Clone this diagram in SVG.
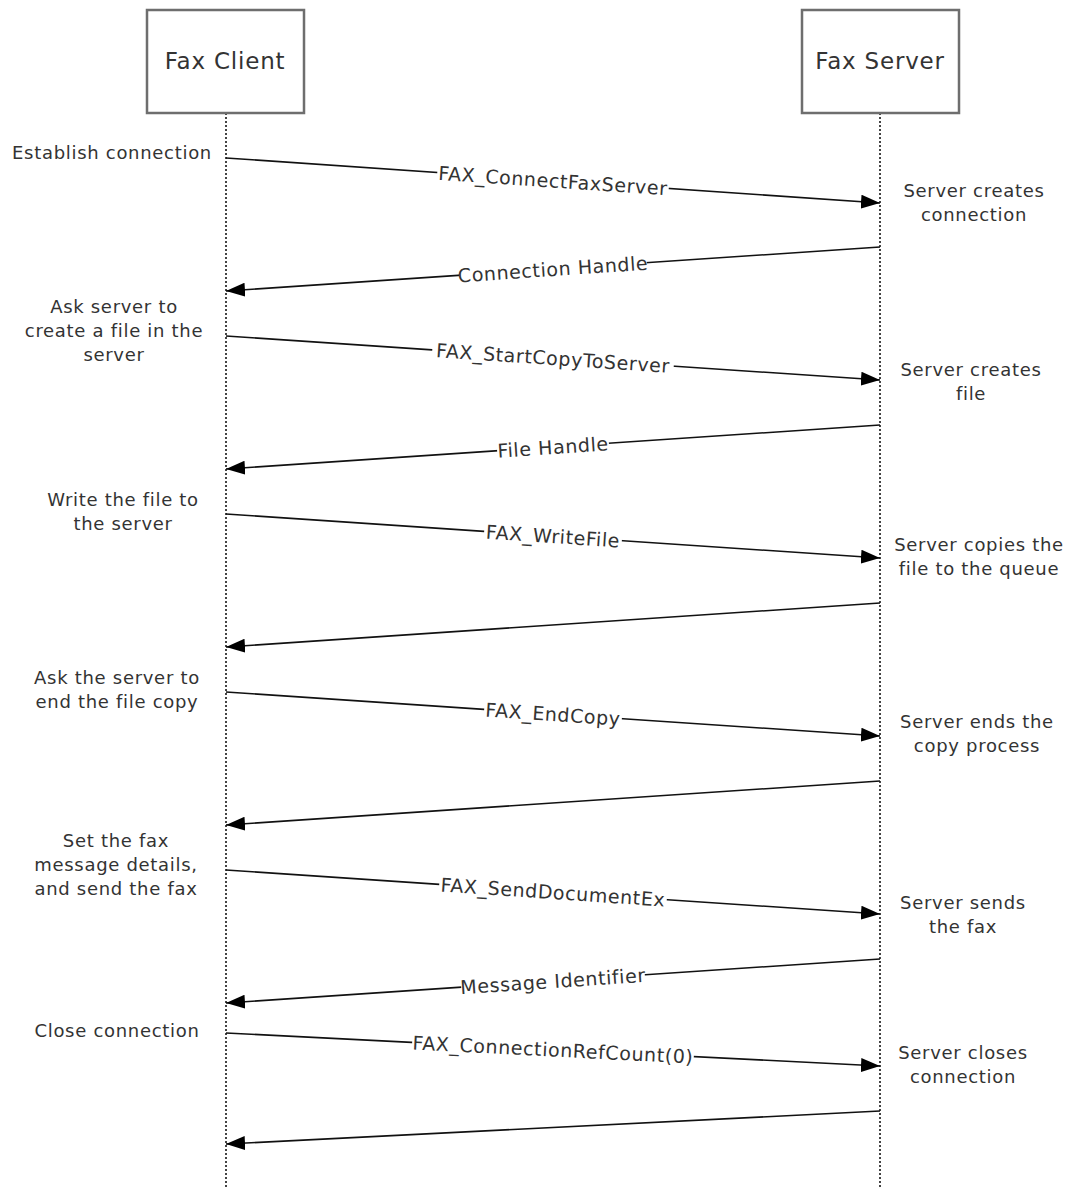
<svg xmlns="http://www.w3.org/2000/svg" width="1069" height="1187" viewBox="0 0 1069 1187">
<defs>
<marker id="ah" markerUnits="userSpaceOnUse" markerWidth="20" markerHeight="14" refX="19" refY="7" orient="auto">
<path d="M0,0 L19,7 L0,14 Z" fill="#000"/>
</marker>
<style>
.box{fill:#fff;stroke:#6e6e6e;stroke-width:2.5}
.title{font-family:"DejaVu Sans",Verdana,sans-serif;font-size:23px;fill:#333;text-anchor:middle;letter-spacing:0.8px}
.t{font-family:"DejaVu Sans",Verdana,sans-serif;font-size:18px;fill:#333;text-anchor:middle;letter-spacing:0.7px}
.life{stroke:#444;stroke-width:2;stroke-dasharray:2 2;fill:none}
.msg{stroke:#111;stroke-width:1.6;fill:none;marker-end:url(#ah)}
.lbl{font-family:"DejaVu Sans",Verdana,sans-serif;font-size:19px;fill:#333;text-anchor:middle;dominant-baseline:central;letter-spacing:0.6px}
.bg{fill:#fff}
</style>
</defs>
<rect width="1069" height="1187" fill="#fff"/>
<g id="lifelines">
<line class="life" x1="226" y1="113" x2="226" y2="1187"/>
<line class="life" x1="880" y1="113" x2="880" y2="1187"/>
</g>
<g id="fax-client">
<rect class="box" x="147" y="10" width="157" height="103"/>
<text class="title" x="225" y="69">Fax Client</text>
</g>
<g id="fax-server">
<rect class="box" x="802" y="10" width="157" height="103"/>
<text class="title" x="880" y="69">Fax Server</text>
</g>
<g id="connectors">
<line class="msg" x1="226" y1="158" x2="880" y2="203"/>
<line class="msg" x1="880" y1="247" x2="226" y2="291"/>
<line class="msg" x1="226" y1="336" x2="880" y2="380"/>
<line class="msg" x1="880" y1="425" x2="226" y2="469"/>
<line class="msg" x1="226" y1="514" x2="880" y2="558"/>
<line class="msg" x1="880" y1="603" x2="226" y2="647"/>
<line class="msg" x1="226" y1="692" x2="880" y2="736"/>
<line class="msg" x1="880" y1="781" x2="226" y2="825"/>
<line class="msg" x1="226" y1="870" x2="880" y2="914"/>
<line class="msg" x1="880" y1="959" x2="226" y2="1003"/>
<line class="msg" x1="226" y1="1033" x2="880" y2="1066"/>
<line class="msg" x1="880" y1="1111" x2="226" y2="1144"/>
<g transform="translate(553,180.5) rotate(3.85)"><rect class="bg" x="-116" y="-10" width="232" height="20"/><text class="lbl" x="0" y="0">FAX_ConnectFaxServer</text></g>
<g transform="translate(553,269) rotate(-3.85)"><rect class="bg" x="-94" y="-10" width="188" height="20"/><text class="lbl" x="0" y="0">Connection Handle</text></g>
<g transform="translate(553,358) rotate(3.85)"><rect class="bg" x="-121" y="-10" width="242" height="20"/><text class="lbl" x="0" y="0">FAX_StartCopyToServer</text></g>
<g transform="translate(553,447) rotate(-3.85)"><rect class="bg" x="-56" y="-10" width="112" height="20"/><text class="lbl" x="0" y="0">File Handle</text></g>
<g transform="translate(553,536) rotate(3.85)"><rect class="bg" x="-69" y="-10" width="138" height="20"/><text class="lbl" x="0" y="0">FAX_WriteFile</text></g>
<g transform="translate(553,714) rotate(3.85)"><rect class="bg" x="-69" y="-10" width="138" height="20"/><text class="lbl" x="0" y="0">FAX_EndCopy</text></g>
<g transform="translate(553,892) rotate(3.85)"><rect class="bg" x="-114" y="-10" width="228" height="20"/><text class="lbl" x="0" y="0">FAX_SendDocumentEx</text></g>
<g transform="translate(553,981) rotate(-3.85)"><rect class="bg" x="-92" y="-10" width="184" height="20"/><text class="lbl" x="0" y="0">Message Identifier</text></g>
<g transform="translate(553,1049.5) rotate(2.89)"><rect class="bg" x="-141" y="-10" width="282" height="20"/><text class="lbl" x="0" y="0">FAX_ConnectionRefCount(0)</text></g>
</g>
<g id="client-notes">
<text class="t" x="112" y="159">Establish connection</text>
<text class="t" x="114" y="313">Ask server to</text>
<text class="t" x="114" y="337">create a file in the</text>
<text class="t" x="114" y="361">server</text>
<text class="t" x="123" y="506">Write the file to</text>
<text class="t" x="123" y="530">the server</text>
<text class="t" x="117" y="684">Ask the server to</text>
<text class="t" x="117" y="708">end the file copy</text>
<text class="t" x="116" y="847">Set the fax</text>
<text class="t" x="116" y="871">message details,</text>
<text class="t" x="116" y="895">and send the fax</text>
<text class="t" x="117" y="1037">Close connection</text>
</g>
<g id="server-notes">
<text class="t" x="974" y="197">Server creates</text>
<text class="t" x="974" y="221">connection</text>
<text class="t" x="971" y="376">Server creates</text>
<text class="t" x="971" y="400">file</text>
<text class="t" x="979" y="551">Server copies the</text>
<text class="t" x="979" y="575">file to the queue</text>
<text class="t" x="977" y="728">Server ends the</text>
<text class="t" x="977" y="752">copy process</text>
<text class="t" x="963" y="909">Server sends</text>
<text class="t" x="963" y="933">the fax</text>
<text class="t" x="963" y="1059">Server closes</text>
<text class="t" x="963" y="1083">connection</text>
</g>
</svg>
